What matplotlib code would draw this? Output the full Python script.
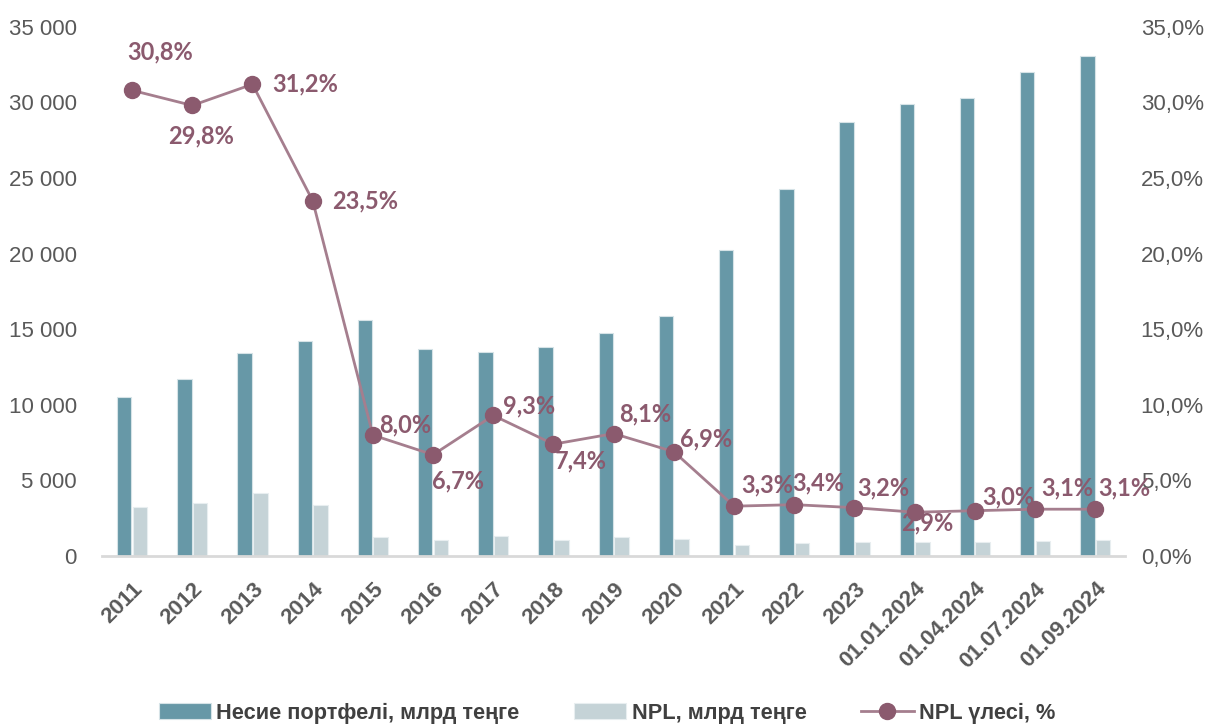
import numpy as np
import matplotlib
matplotlib.use('Agg')
import matplotlib.pyplot as plt
import matplotlib.transforms as mtransforms
from matplotlib.ticker import FuncFormatter

# Data
periods = ['2011', '2012', '2013', '2014', '2015', '2016', '2017', '2018', '2019',
           '2020', '2021', '2022', '2023', '01.01.2024', '01.04.2024',
           '01.07.2024', '01.09.2024']
loans = [10500, 11700, 13400, 14200, 15600, 13700, 13500, 13800, 14750,
         15850, 20250, 24300, 28700, 29900, 30300, 32000, 33100]
npl = [3250, 3500, 4200, 3350, 1250, 1050, 1300, 1050, 1230,
       1100, 700, 840, 945, 900, 945, 1010, 1060]
npl_share = [30.8, 29.8, 31.2, 23.5, 8.0, 6.7, 9.3, 7.4, 8.1,
             6.9, 3.3, 3.4, 3.2, 2.9, 3.0, 3.1, 3.1]

legend_labels = ['Несие портфелі, млрд теңге', 'NPL, млрд теңге', 'NPL үлесі, %']

# label offsets in points (dx, dy) relative to each line point
label_offsets = [(20, 28), (6, -22), (38, 0), (38, 0), (23, 7), (18, -19),
                 (26, 7), (20, -12), (23, 14), (23, 9), (24, 15), (17, 16),
                 (21, 14), (9, -8), (24, 10), (23, 15), (21, 15)]

teal = '#6798A7'
grey = '#C5D3D7'
plum = '#8B5A6E'
plum_line = '#A57E8E'
txt = '#595959'
sans = ['Liberation Sans', 'DejaVu Sans']

fig = plt.figure(figsize=(12.14, 7.25), dpi=100)
ax = fig.add_axes([0.084, 0.233, 0.843, 0.730])
ax2 = ax.twinx()

x = np.arange(len(periods))
w = 0.24
ax.bar(x - 0.13, loans, w, color=teal, edgecolor='#D6E3E7', linewidth=0.8,
       label=legend_labels[0], zorder=2)
ax.bar(x + 0.13, npl, w, color=grey, edgecolor='#E8EEF0', linewidth=0.8,
       label=legend_labels[1], zorder=2)

ax2.plot(x, npl_share, color=plum_line, lw=2, marker='o', markersize=11.5,
         markerfacecolor=plum, markeredgecolor=plum, label=legend_labels[2])
for i, v in enumerate(npl_share):
    lbl = ('%.1f%%' % v).replace('.', ',')
    ax2.annotate(lbl, (x[i], v), xytext=label_offsets[i], textcoords='offset points',
                 ha='center', va='center', color=plum, fontsize=17, fontweight='bold',
                 family=['Lato', 'DejaVu Sans'])

ax.set_xlim(-0.5, len(periods) - 0.5)
ax.set_ylim(0, 35000)
ax.set_yticks(np.arange(0, 35001, 5000))
ax.yaxis.set_major_formatter(FuncFormatter(lambda v, p: ('{:,.0f}'.format(v)).replace(',', ' ')))
ax2.set_ylim(0, 35)
ax2.set_yticks(np.arange(0, 35.1, 5))
ax2.yaxis.set_major_formatter(FuncFormatter(lambda v, p: ('%.1f%%' % v).replace('.', ',')))

ax.set_xticks(x)
ax.set_xticklabels(periods, rotation=45, ha='right', rotation_mode='anchor',
                   fontsize=16, fontweight='bold', color=txt, family=sans)
ax.tick_params(axis='x', pad=16)
# nudge the rotated labels a little to the left, like the original
shift = mtransforms.ScaledTranslation(-0.06, 0, fig.dpi_scale_trans)
for t in ax.get_xticklabels():
    t.set_transform(t.get_transform() + shift)

for a in (ax, ax2):
    for s in ['top', 'left', 'right', 'bottom']:
        a.spines[s].set_visible(False)
    a.tick_params(length=0)
ax.spines['bottom'].set_visible(True)
ax.spines['bottom'].set_color('#D9D9D9')
ax.spines['bottom'].set_linewidth(2)
ax.tick_params(axis='y', labelsize=16, labelcolor=txt, pad=18)
ax2.tick_params(axis='y', labelsize=16, labelcolor=txt, pad=11)
for t in ax.get_yticklabels() + ax2.get_yticklabels():
    t.set_family(sans)

h1, l1 = ax.get_legend_handles_labels()
h2, l2 = ax2.get_legend_handles_labels()
fig.legend(h1 + h2, l1 + l2, loc='lower center', bbox_to_anchor=(0.5, -0.025), ncol=3,
           frameon=False, handlelength=2.4, handleheight=0.7, columnspacing=2.5,
           prop={'family': sans, 'weight': 'bold', 'size': 15.7}, labelcolor='#404040',
           handletextpad=0.25)

fig.savefig('out.png', dpi=100)
